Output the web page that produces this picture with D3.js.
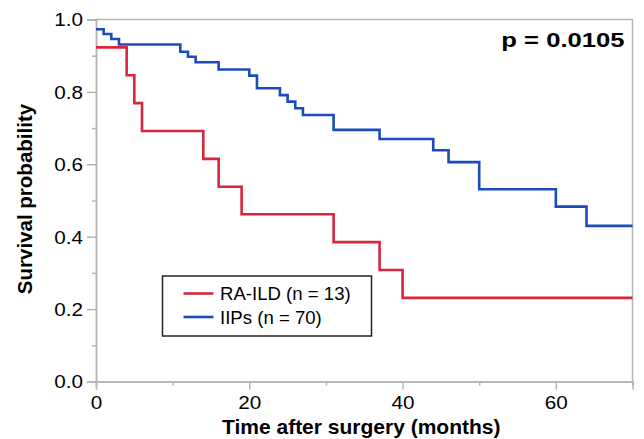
<!DOCTYPE html>
<html>
<head>
<meta charset="utf-8">
<script src="https://cdn.jsdelivr.net/npm/d3@7"></script>
<style>
  body { margin: 0; background: #fff; }
  svg { display: block; font-family: "Liberation Sans", Arial, sans-serif; }
</style>
</head>
<body>
<svg id="km-chart" width="644" height="439"></svg>
<script>
// Kaplan-Meier steps (months, survival)
var raTimes = [0, 4, 5, 6, 14, 16, 19, 31, 37, 40, 70];
var raSurv = [0.923, 0.846, 0.769, 0.692, 0.615, 0.538, 0.462, 0.385, 0.308, 0.231, 0.231];

var iipTimes = [0, 1, 2, 3, 11, 12, 13, 16, 20, 21, 24, 25, 26, 27, 31, 37, 44, 46, 50, 60, 64, 70];
var iipSurv = [0.973, 0.960, 0.946, 0.931, 0.911, 0.897, 0.882, 0.862, 0.845, 0.810, 0.791, 0.773,
  0.755, 0.736, 0.695, 0.670, 0.639, 0.606, 0.531, 0.483, 0.430, 0.430];

var seriesNames = ['RA-ILD (n = 13)', 'IIPs (n = 70)'];
var seriesColors = ['#d9263f', '#1c4cbb'];

var xTicks = [0, 20, 40, 60];
var xMinorTicks = [10, 30, 50, 70];
var yTicks = [0, 0.2, 0.4, 0.6, 0.8, 1.0];
var yMinorTicks = [0.1, 0.3, 0.5, 0.7, 0.9];

var pValueLabel = 'p = 0.0105';

(function () {
  var svg = d3.select('#km-chart');
  var left = 96, right = 632.5, top = 19.5, bottom = 381.5;
  var grey = '#b5b5b5';

  var x = d3.scaleLinear().domain([0, 70]).range([left, right]);
  var y = d3.scaleLinear().domain([0, 1]).range([bottom, top]);

  // frame (top + right)
  svg.append('path')
    .attr('d', 'M' + left + ',' + top + 'H' + right + 'V' + bottom)
    .attr('fill', 'none')
    .attr('stroke', grey)
    .attr('stroke-width', 1.5);

  // x axis
  var xAxis = svg.append('g').attr('transform', 'translate(0,' + bottom + ')');
  xAxis.call(d3.axisBottom(x).tickValues(xTicks).tickSize(8).tickFormat(d3.format('d')));
  xAxis.append('g').call(d3.axisBottom(x).tickValues(xMinorTicks).tickSize(4).tickFormat(''));
  xAxis.selectAll('.domain').attr('stroke', grey).attr('stroke-width', 1.5);
  xAxis.selectAll('line').attr('stroke', grey).attr('stroke-width', 1.5);
  xAxis.selectAll('.tick text')
    .attr('fill', '#000')
    .attr('font-size', 18)
    .attr('x', 0).attr('y', 0).attr('dy', 0)
    .attr('transform', 'translate(0,27) scale(1.15,1)')
    .attr('text-anchor', 'middle');

  // y axis
  var yAxis = svg.append('g').attr('transform', 'translate(' + left + ',0)');
  yAxis.call(d3.axisLeft(y).tickValues(yTicks).tickSize(9).tickFormat(d3.format('.1f')));
  yAxis.append('g').call(d3.axisLeft(y).tickValues(yMinorTicks).tickSize(4).tickFormat(''));
  yAxis.selectAll('.domain').attr('stroke', grey).attr('stroke-width', 1.5);
  yAxis.selectAll('line').attr('stroke', grey).attr('stroke-width', 1.5);
  yAxis.selectAll('.tick text')
    .attr('fill', '#000')
    .attr('font-size', 18)
    .attr('x', -13 / 1.15)
    .attr('dy', '0.36em')
    .attr('transform', 'scale(1.15,1)');

  // axis titles
  svg.append('text')
    .attr('x', (left + right) / 2 - 3)
    .attr('y', 434)
    .attr('text-anchor', 'middle')
    .attr('font-size', 21)
    .attr('font-weight', 'bold')
    .text('Time after surgery (months)');

  svg.append('text')
    .attr('transform', 'translate(31.5,199) rotate(-90)')
    .attr('text-anchor', 'middle')
    .attr('font-size', 20.5)
    .attr('font-weight', 'bold')
    .text('Survival probability');

  // survival curves
  var line = d3.line()
    .x(function (d) { return x(d[0]); })
    .y(function (d) { return y(d[1]); })
    .curve(d3.curveStepAfter);

  var curves = [d3.zip(raTimes, raSurv), d3.zip(iipTimes, iipSurv)];
  svg.selectAll('path.km')
    .data(curves)
    .enter()
    .append('path')
    .attr('class', 'km')
    .attr('d', line)
    .attr('fill', 'none')
    .attr('stroke', function (d, i) { return seriesColors[i]; })
    .attr('stroke-width', 2.6);

  // p value
  svg.append('text')
    .attr('transform', 'translate(624.5,47) scale(1.25,1)')
    .attr('text-anchor', 'end')
    .attr('font-size', 20.5)
    .attr('font-weight', 'bold')
    .text(pValueLabel);

  // legend
  var legend = svg.append('g').attr('transform', 'translate(162.5,276)');
  legend.append('rect')
    .attr('width', 209)
    .attr('height', 60)
    .attr('fill', '#fff')
    .attr('stroke', '#222')
    .attr('stroke-width', 1.5);
  var items = legend.selectAll('g.item')
    .data(seriesNames)
    .enter()
    .append('g')
    .attr('class', 'item')
    .attr('transform', function (d, i) { return 'translate(0,' + (17.5 + i * 23.5) + ')'; });
  items.append('line')
    .attr('x1', 21).attr('x2', 51)
    .attr('stroke', function (d, i) { return seriesColors[i]; })
    .attr('stroke-width', 2.6);
  items.append('text')
    .attr('x', 57.5)
    .attr('dy', '0.36em')
    .attr('font-size', 18.6)
    .text(function (d) { return d; });
})();
</script>
</body>
</html>
